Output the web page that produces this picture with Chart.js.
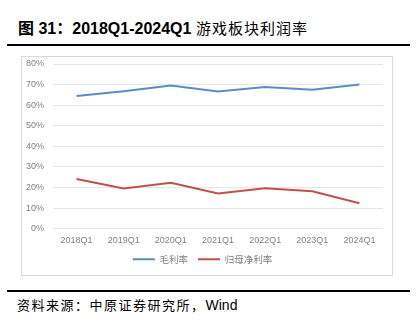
<!DOCTYPE html>
<html>
<head>
<meta charset="utf-8">
<script src="https://cdn.jsdelivr.net/npm/chart.js@4"></script>
<style>
  html, body { margin: 0; padding: 0; background: #fff; }
  body { width: 420px; height: 326px; position: relative; overflow: hidden;
         font-family: "Liberation Sans", Arial, "Noto Sans CJK SC", sans-serif; }
  #title { position: absolute; left: 18px; top: 15px; font-size: 16px; font-weight: bold; color: #000; white-space: nowrap; }
  #title .cn { font-weight: normal; font-family: "Noto Sans CJK SC", sans-serif; font-size: 15px; letter-spacing: 1px; }
  .rule { position: absolute; left: 7px; width: 403px; height: 2px; background: #000; }
  #box { position: absolute; left: 21px; top: 56px; width: 370px; height: 218px; border: 1px solid #d9d9d9; }
  #source { position: absolute; left: 17px; top: 295px; font-size: 13px; color: #000; white-space: nowrap;
            font-family: "Noto Sans CJK SC", sans-serif; letter-spacing: 1.5px; }
  #source .en { font-family: "Liberation Sans", Arial, sans-serif; font-size: 14px; letter-spacing: 0; }
</style>
</head>
<body>
<div id="title">图 31：2018Q1-2024Q1 <span class="cn">游戏板块利润率</span></div>
<div class="rule" style="top:44px"></div>
<div id="box"><canvas id="chart" width="370" height="218"></canvas></div>
<div class="rule" style="top:290px"></div>
<div id="source">资料来源：中原证券研究所，<span class="en">Wind</span></div>
<script>
const categories = ['2018Q1', '2019Q1', '2020Q1', '2021Q1', '2022Q1', '2023Q1', '2024Q1'];
const grossMargin = [64.4, 66.8, 69.6, 66.7, 68.8, 67.5, 70.0];
const netMargin = [24.1, 19.5, 22.3, 17.1, 19.7, 18.2, 12.4];
const yTicks = [0, 10, 20, 30, 40, 50, 60, 70, 80];

// legend keeps its horizontal spacing but sits closer to the axis labels
const tightLegend = {
  id: 'tightLegend',
  beforeLayout(chart) {
    const lg = chart.legend;
    if (lg && !lg._tight) {
      const fit = lg.fit;
      const draw = lg.draw;
      lg.fit = function () { fit.call(this); this.height -= 8; };
      lg.draw = function () {
        const c = this.ctx;
        c.save();
        c.translate(0, -7);
        draw.call(this);
        c.restore();
      };
      lg._tight = true;
    }
  }
};

const ctx = document.getElementById('chart').getContext('2d');
new Chart(ctx, {
  type: 'line',
  data: {
    labels: categories,
    datasets: [
      {
        label: '毛利率',
        data: grossMargin,
        borderColor: '#5b8bc9',
        backgroundColor: '#5b8bc9',
        borderWidth: 2,
        pointRadius: 0,
        tension: 0
      },
      {
        label: '归母净利率',
        data: netMargin,
        borderColor: '#c0504d',
        backgroundColor: '#c0504d',
        borderWidth: 2,
        pointRadius: 0,
        tension: 0
      }
    ]
  },
  plugins: [tightLegend],
  options: {
    responsive: false,
    animation: false,
    layout: { padding: { top: 7, right: 9, bottom: 2, left: 0 } },
    scales: {
      x: {
        offset: true,
        grid: { display: false, drawTicks: false },
        border: { display: false },
        ticks: { color: '#7f7f7f', font: { size: 9, family: 'Liberation Sans' }, padding: 6, maxRotation: 0 }
      },
      y: {
        min: 0,
        max: 80,
        afterBuildTicks: axis => { axis.ticks = yTicks.map(v => ({ value: v })); },
        afterFit: axis => { axis.width = 31; axis.paddingTop = 0; axis.paddingBottom = 0; },
        grid: { color: '#e6e6e6', drawTicks: false },
        border: { display: false },
        ticks: {
          color: '#7f7f7f',
          font: { size: 9, family: 'Liberation Sans' },
          padding: 9,
          callback: v => v + '%'
        }
      }
    },
    plugins: {
      legend: {
        position: 'bottom',
        labels: {
          usePointStyle: true,
          pointStyle: 'line',
          pointStyleWidth: 22,
          boxHeight: 9,
          padding: 10,
          color: '#7f7f7f',
          font: { size: 9.5, family: 'Noto Sans CJK SC' }
        }
      },
      tooltip: { enabled: false }
    }
  }
});
</script>
</body>
</html>
